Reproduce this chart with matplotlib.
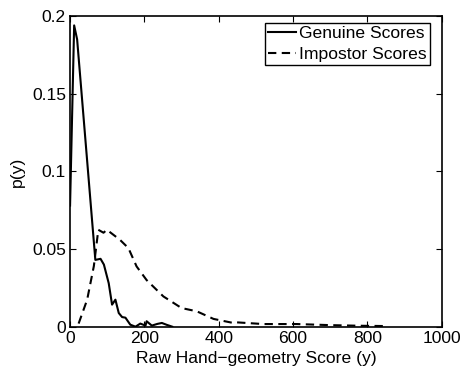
import matplotlib
matplotlib.use("Agg")
import matplotlib.pyplot as plt

plt.rcParams['font.family'] = ['Liberation Sans', 'DejaVu Sans']

# Genuine score distribution
genuine_x = [0, 11, 19, 59, 68, 82, 91, 104, 113, 122, 131, 140, 149, 162, 176, 189, 203, 206, 220, 235, 247, 260, 275]
genuine_y = [0.078, 0.194, 0.185, 0.069, 0.043, 0.0437, 0.040, 0.028, 0.0142, 0.0174, 0.0088, 0.0062, 0.0058,
             0.0013, 0.0, 0.002, 0.0007, 0.0035, 0.0007, 0.0018, 0.0024, 0.0012, 0.0]

# Impostor score distribution
impostor_x = [23, 46, 64, 76, 90, 99, 134, 157, 179, 206, 251, 300, 341, 386, 439, 448, 520, 610, 700, 780, 852]
impostor_y = [0.002, 0.0174, 0.039, 0.0624, 0.0605, 0.0624, 0.056, 0.0506, 0.0388, 0.030, 0.0195, 0.012,
              0.0099, 0.005, 0.0024, 0.0028, 0.0017, 0.0017, 0.001, 0.0006, 0.0004]

fs = 12.6

fig = plt.figure(figsize=(4.64, 3.74), dpi=100)
ax = fig.add_axes([0.151, 0.1265, 0.801, 0.8305])

ax.plot(genuine_x, genuine_y, color='k', lw=1.5, label='Genuine Scores')
ax.plot(impostor_x, impostor_y, color='k', lw=1.5, ls=(0, (4, 2.6)), label='Impostor Scores')

ax.set_xlim(0, 1000)
ax.set_ylim(0, 0.2)
ax.set_xticks([0, 200, 400, 600, 800, 1000])
ax.set_yticks([0, 0.05, 0.1, 0.15, 0.2])
ax.set_yticklabels(['0', '0.05', '0.1', '0.15', '0.2'])
ax.tick_params(direction='in', top=True, right=True, labelsize=fs, length=4, width=0.8, pad=3)
for sp in ax.spines.values():
    sp.set_linewidth(1.2)

ax.set_xlabel('Raw Hand\u2212geometry Score (y)', fontsize=fs, labelpad=4)
ax.set_ylabel('p(y)', fontsize=fs, labelpad=5)

leg = ax.legend(loc='upper right', bbox_to_anchor=(0.968, 0.978), fontsize=fs, frameon=True, fancybox=False,
                edgecolor='k', framealpha=1, handlelength=1.6, handletextpad=0.15, borderpad=0.18,
                labelspacing=0.3, borderaxespad=0)
leg.get_frame().set_linewidth(1.0)

fig.savefig('out.png', dpi=100)
